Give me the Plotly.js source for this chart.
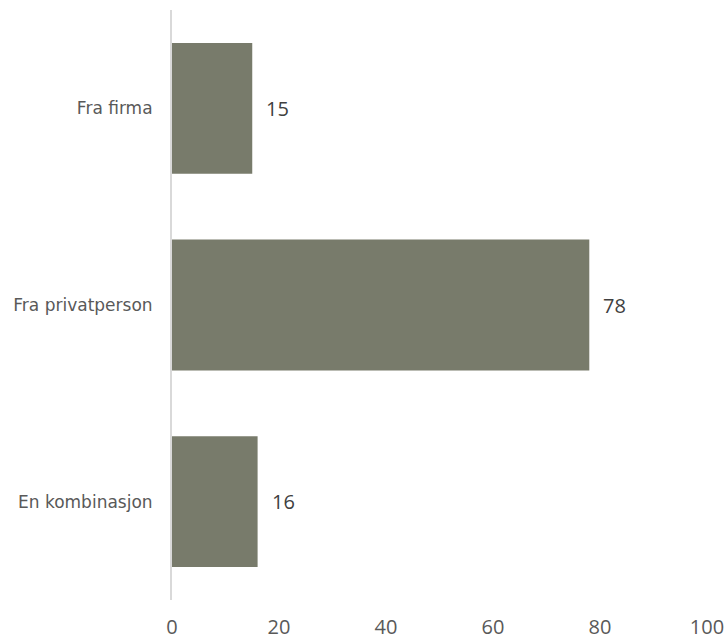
<!DOCTYPE html>
<html><head><meta charset="utf-8">
<script src="https://cdn.plot.ly/plotly-3.0.1.min.js"></script>
<style>html,body{margin:0;padding:0;background:#fff}</style>
</head><body><div id="chart" style="width:728px;height:641px"></div>
<script>
const categories = ["Fra firma", "Fra privatperson", "En kombinasjon"];
const values = [15, 78, 16];
const xTicks = [0, 20, 40, 60, 80, 100];

const data = [{
  type: 'bar', orientation: 'h',
  x: values, y: categories,
  marker: {color: '#787b6b'},
  width: 0.665,
  hoverinfo: 'none'
}];
const annotations = values.map((v, i) => ({
  x: v, y: categories[i], xref: 'x', yref: 'y',
  text: String(v), showarrow: false, xanchor: 'left', xshift: 12,
  font: {family: 'Open Sans', size: 20, color: '#404040'}
}));
const layout = {
  width: 728, height: 641,
  margin: {l: 172, r: 21, t: 10, b: 41},
  paper_bgcolor: '#fff', plot_bgcolor: '#fff',
  showlegend: false,
  bargap: 0.335,
  xaxis: {
    range: [0, 100], tickvals: xTicks, ticktext: xTicks.map(String),
    showgrid: false, zeroline: false, showline: false,
    tickfont: {family: 'Open Sans', size: 20, color: '#595959'},
    ticklabelstandoff: 13, fixedrange: true
  },
  yaxis: {
    autorange: 'reversed', showgrid: false, zeroline: false,
    showline: true, linecolor: '#d9d9d9', linewidth: 2,
    tickfont: {family: 'DejaVu Sans', size: 17, color: '#595959'},
    ticklabelstandoff: 14, fixedrange: true
  },
  annotations: annotations
};
Plotly.newPlot('chart', data, layout, {displayModeBar: false, staticPlot: true});
</script></body></html>
